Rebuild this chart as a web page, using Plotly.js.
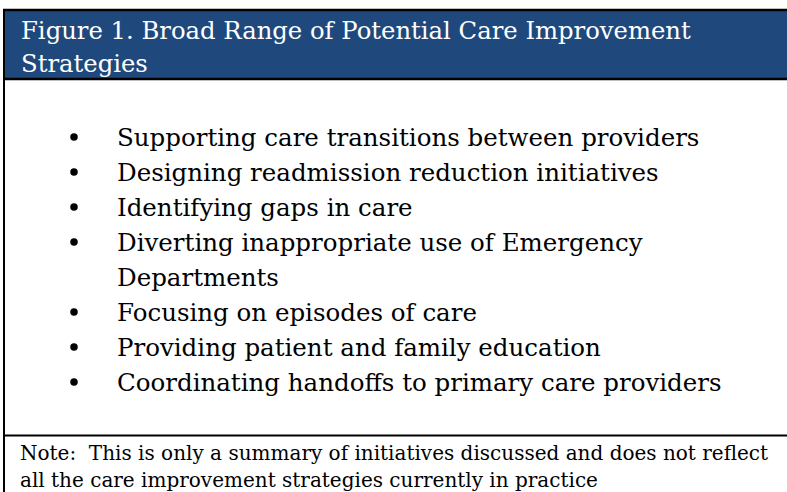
<!DOCTYPE html>
<html>
<head>
<meta charset="utf-8">
<script src="https://cdn.plot.ly/plotly-3.0.1.min.js"></script>
<style>
html,body{margin:0;padding:0;background:#fff;overflow:hidden;}
#chart{width:787px;height:492px;}
</style>
</head>
<body>
<div id="chart"></div>
<script>
// ---- content (text of the figure) ----
var titleLines = ["Figure 1. Broad Range of Potential Care Improvement", "Strategies"];
var bulletItems = [
  ["Supporting care transitions between providers"],
  ["Designing readmission reduction initiatives"],
  ["Identifying gaps in care"],
  ["Diverting inappropriate use of Emergency", "Departments"],
  ["Focusing on episodes of care"],
  ["Providing patient and family education"],
  ["Coordinating handoffs to primary care providers"]
];
var noteLines = [
  "Note:  This is only a summary of initiatives discussed and does not reflect",
  "all the care improvement strategies currently in practice"
];

// ---- layout geometry (pixel space of the 787x492 canvas) ----
var W = 787, H = 492;
var headerTop = 10, headerBottom = 79, sepY = 435.5, borderX = 4;
var titleX = 19, titleY0 = 30, titleStep = 33;
var bulletX = 74, textX = 115, bodyY0 = 137, bodyStep = 35;
var noteX = 18, noteY0 = 453, noteStep = 27;
var serif = "DejaVu Serif, Liberation Serif, serif";

var annotations = [];
titleLines.forEach(function (t, i) {
  annotations.push({
    x: titleX, y: titleY0 + i * titleStep, xref: "x", yref: "y",
    text: t, showarrow: false, xanchor: "left", yanchor: "middle",
    font: {family: serif, size: 24.3, color: "#ffffff"}
  });
});

var bx = [], by = [];
var lineIdx = 0;
bulletItems.forEach(function (item) {
  item.forEach(function (t, j) {
    var y = bodyY0 + lineIdx * bodyStep;
    if (j === 0) { bx.push(bulletX); by.push(y); }
    annotations.push({
      x: textX, y: y, xref: "x", yref: "y",
      text: t, showarrow: false, xanchor: "left", yanchor: "middle",
      font: {family: serif, size: 24.5, color: "#000000"}
    });
    lineIdx++;
  });
});

noteLines.forEach(function (t, i) {
  annotations.push({
    x: noteX, y: noteY0 + i * noteStep, xref: "x", yref: "y",
    text: t, showarrow: false, xanchor: "left", yanchor: "middle",
    font: {family: serif, size: 20, color: "#000000"}
  });
});

var shapes = [
  {type: "rect", xref: "paper", yref: "y", x0: borderX / W, x1: 1, y0: headerTop, y1: headerBottom,
   fillcolor: "#1f497d", line: {width: 0}, layer: "below"},
  {type: "rect", xref: "paper", yref: "y", x0: (W - 4) / W, x1: 1, y0: headerBottom + 2, y1: sepY - 1.5,
   fillcolor: "#ffffff", line: {width: 0}, layer: "above"},
  {type: "line", xref: "paper", yref: "y", x0: (borderX - 1) / W, x1: 1, y0: headerTop, y1: headerTop,
   line: {color: "#000", width: 2.5}},
  {type: "line", xref: "paper", yref: "y", x0: (borderX - 1) / W, x1: 1, y0: headerBottom, y1: headerBottom,
   line: {color: "#000", width: 2.5}},
  {type: "line", xref: "x", yref: "paper", x0: borderX, x1: borderX, y0: 0, y1: 1 - (headerTop - 1) / H,
   line: {color: "#000", width: 2}},
  {type: "line", xref: "paper", yref: "y", x0: borderX / W, x1: 1, y0: sepY, y1: sepY,
   line: {color: "#000", width: 2}}
];

var traces = [{
  type: "scatter", mode: "markers", x: bx, y: by, cliponaxis: false,
  marker: {size: 7.5, color: "#000000"}, hoverinfo: "skip", showlegend: false
}];

var layout = {
  width: W, height: H,
  margin: {l: 0, r: 0, t: 0, b: 0, pad: 0},
  paper_bgcolor: "#ffffff", plot_bgcolor: "rgba(0,0,0,0)",
  xaxis: {range: [0, W], visible: false, fixedrange: true, showline: false, zeroline: false, showgrid: false},
  yaxis: {range: [H, 0], visible: false, fixedrange: true, showline: false, zeroline: false, showgrid: false},
  shapes: shapes, annotations: annotations, showlegend: false
};

Plotly.newPlot("chart", traces, layout, {displayModeBar: false, staticPlot: true});
</script>
</body>
</html>
